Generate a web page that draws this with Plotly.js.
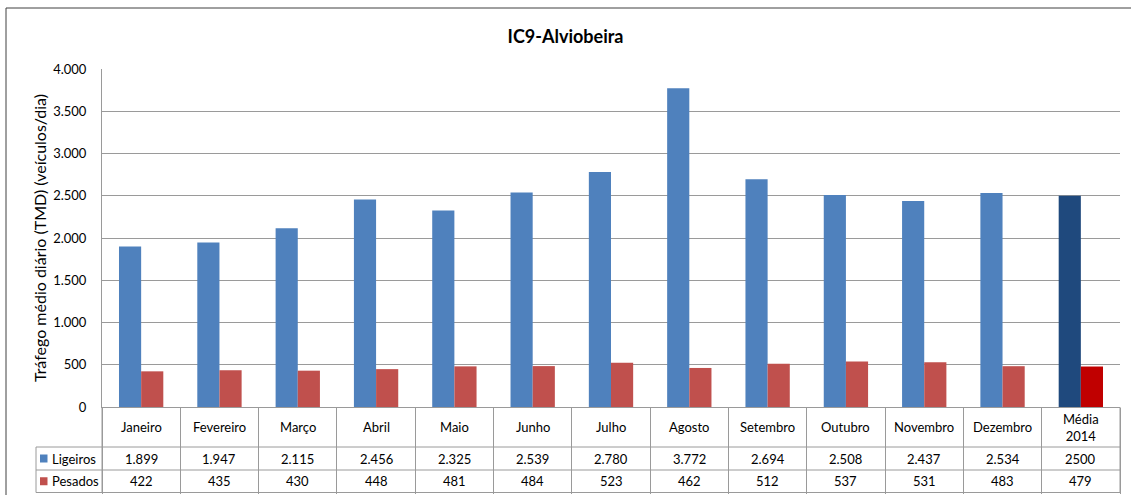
<!DOCTYPE html>
<html>
<head>
<meta charset="utf-8">
<script src="https://cdn.plot.ly/plotly-3.0.1.min.js"></script>
<style>html,body{margin:0;padding:0;background:#fff;}#chart{width:1131px;height:495px;}</style>
</head>
<body>
<div id="chart"></div>
<script>
// ---- data ----
const categories = ["Janeiro","Fevereiro","Março","Abril","Maio","Junho","Julho","Agosto","Setembro","Outubro","Novembro","Dezembro","Média<br>2014"];
const ligeiros = [1899,1947,2115,2456,2325,2539,2780,3772,2694,2508,2437,2534,2500];
const pesados  = [422,435,430,448,481,484,523,462,512,537,531,483,479];
const seriesNames = ["Ligeiros","Pesados"];
const yTickVals = [0,500,1000,1500,2000,2500,3000,3500,4000];

// ---- styling / layout constants ----
const W = 1131, H = 495;
const L = 102, R = 1120, T = 69, B = 407;
const colLig = "#4F81BD", colLigAvg = "#1F497D";
const colPes = "#C0504D", colPesAvg = "#C00000";
const gridCol = "#9a9a9a";
const FONT = "Lato, 'Open Sans', sans-serif";

const pw = R - L, ph = B - T;
const px = v => (v - L) / pw;      // pixel -> paper x
const py = v => (B - v) / ph;      // pixel -> paper y

function fmt(v){ return String(v).replace(/\B(?=(\d{3})+(?!\d))/g, "."); }

const nCat = categories.length;
const ligColors = categories.map((c,i)=> i===nCat-1 ? colLigAvg : colLig);
const pesColors = categories.map((c,i)=> i===nCat-1 ? colPesAvg : colPes);

const traces = [
  {type:"bar", name:seriesNames[0], x:categories, y:ligeiros, marker:{color:ligColors, line:{width:0}}, hoverinfo:"x+y"},
  {type:"bar", name:seriesNames[1], x:categories, y:pesados,  marker:{color:pesColors, line:{width:0}}, hoverinfo:"x+y"}
];

// table rows (pixel boundaries)
const rowHeadTop = B, rowHeadBot = 447, rowLigBot = 470, rowPesBot = 492.5;
const legendLeft = 36;

const shapes = [];
const annotations = [];
// outer frame
shapes.push({type:"rect", xref:"paper", yref:"paper", x0:px(6), x1:px(W+5), y0:py(H+5), y1:py(8), line:{color:"#404040", width:1}, fillcolor:"rgba(0,0,0,0)"});
// horizontal table lines
[rowHeadBot, rowLigBot, rowPesBot].forEach(yy=>{
  shapes.push({type:"line", xref:"paper", yref:"paper", x0:px(legendLeft), x1:1, y0:py(yy), y1:py(yy), line:{color:gridCol, width:1}});
});
// legend column left edge
shapes.push({type:"line", xref:"paper", yref:"paper", x0:px(legendLeft), x1:px(legendLeft), y0:py(rowHeadBot), y1:py(rowPesBot), line:{color:gridCol, width:1}});
shapes.push({type:"line", xref:"paper", yref:"paper", x0:0, x1:0, y0:py(rowHeadTop), y1:py(rowPesBot), line:{color:gridCol, width:1}});
shapes.push({type:"line", xref:"paper", yref:"paper", x0:1, x1:1, y0:py(rowHeadTop), y1:py(rowPesBot), line:{color:gridCol, width:1}});

// legend keys in table
const rowsInfo = [
  {name:seriesNames[0], color:colLig, top:rowHeadBot, bot:rowLigBot, vals:ligeiros},
  {name:seriesNames[1], color:colPes, top:rowLigBot, bot:rowPesBot, vals:pesados}
];
rowsInfo.forEach(r=>{
  const cy = (r.top + r.bot)/2;
  shapes.push({type:"rect", xref:"paper", yref:"paper", x0:px(40), x1:px(47.5), y0:py(cy+4), y1:py(cy-4), fillcolor:r.color, line:{width:0}});
  annotations.push({xref:"paper", yref:"paper", x:px(50), y:py(cy), xanchor:"left", yanchor:"middle", text:r.name, showarrow:false, font:{family:FONT, size:13, color:"#000"}});
  r.vals.forEach((v,i)=>{
    annotations.push({xref:"x", yref:"paper", x:categories[i], y:py(cy), xanchor:"center", yanchor:"middle", text: i===nCat-1 ? String(v) : fmt(v), showarrow:false, font:{family:FONT, size:13, color:"#000"}});
  });
});
// header row
categories.forEach(c=>{
  annotations.push({xref:"x", yref:"paper", x:c, y:py((rowHeadTop+rowHeadBot)/2), xanchor:"center", yanchor:"middle", text:c, showarrow:false, font:{family:FONT, size:13, color:"#000"}});
});

const layout = {
  width:W, height:H,
  margin:{l:L, r:W-R, t:T, b:H-B, pad:0},
  paper_bgcolor:"#fff", plot_bgcolor:"#fff",
  separators:",.",
  showlegend:false,
  barmode:"group", bargap:0.434, bargroupgap:0,
  font:{family:FONT, size:13, color:"#000"},
  title:{text:"IC9-Alviobeira", x:0.5, xref:"container", y:1-37/H, yref:"container", xanchor:"center", yanchor:"middle", font:{family:FONT, size:18, color:"#000", weight:"bold"}},
  xaxis:{type:"category", showticklabels:false, showgrid:false, showline:true, linecolor:gridCol, linewidth:1,
         ticks:"outside", tickson:"boundaries", ticklen:rowPesBot-rowHeadTop, tickcolor:gridCol, tickwidth:1, zeroline:false, fixedrange:true},
  yaxis:{range:[0,4000], tickvals:yTickVals, tickformat:",", showgrid:true, gridcolor:gridCol, gridwidth:1, zeroline:false,
         showline:true, linecolor:gridCol, linewidth:1, ticks:"", ticklabelstandoff:12,
         tickfont:{family:FONT, size:13, color:"#000"},
         title:{text:"Tráfego médio diário (TMD) (veículos/dia)", standoff:2, font:{family:FONT, size:16, color:"#000"}}, fixedrange:true},
  shapes:shapes,
  annotations:annotations
};

Plotly.newPlot("chart", traces, layout, {displayModeBar:false, staticPlot:true});
</script>
</body>
</html>
